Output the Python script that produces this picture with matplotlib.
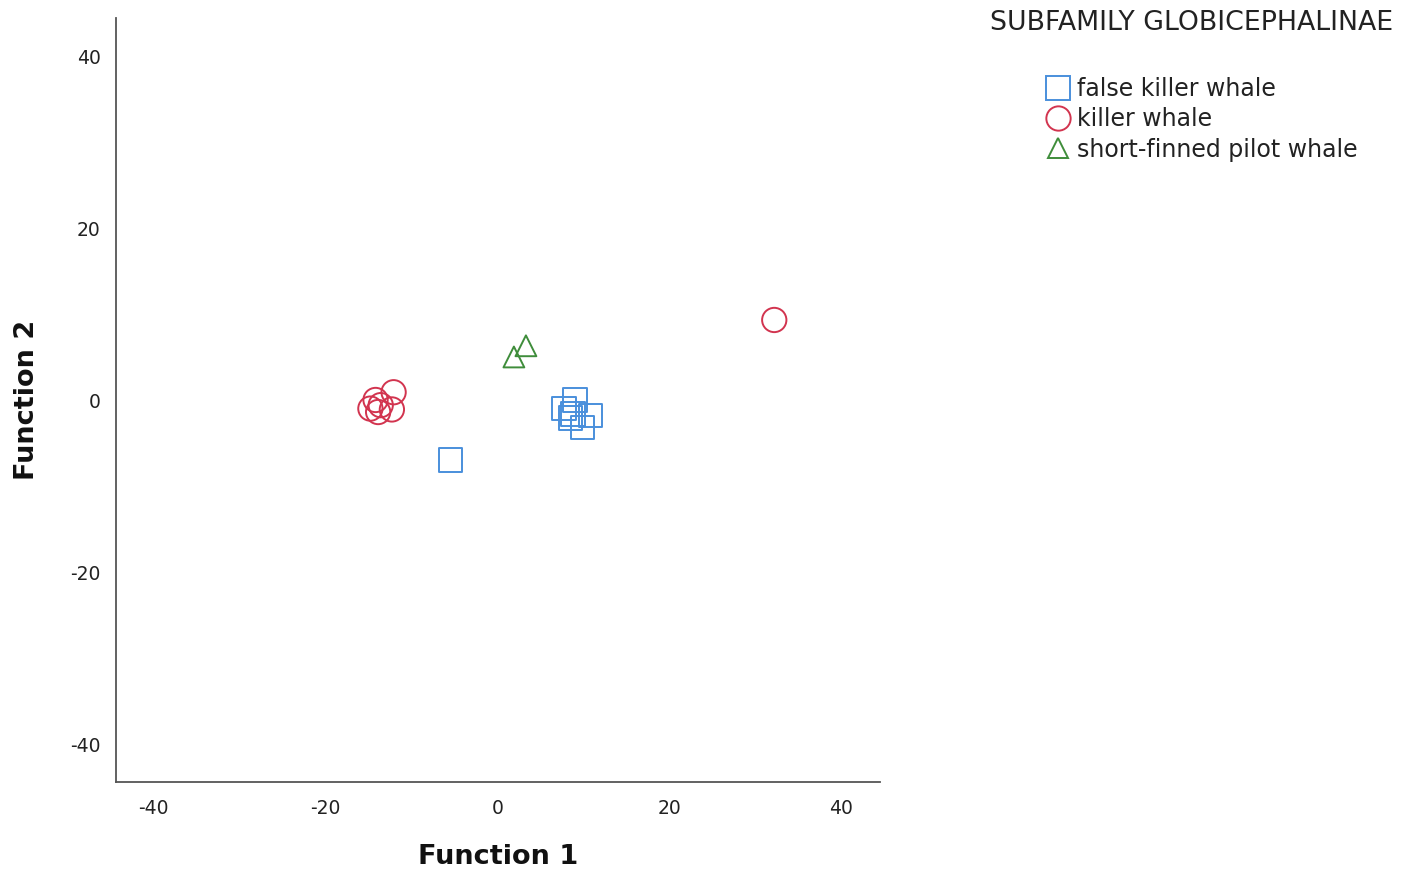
import matplotlib
matplotlib.use("Agg")
import matplotlib.pyplot as plt
from matplotlib.lines import Line2D

plt.rcParams['font.family'] = ['DejaVu Sans']
plt.rcParams['axes.unicode_minus'] = False

# Discriminant function scores per group
false_killer_f1 = [-5.5, 9.0, 7.7, 10.8, 9.9, 8.5, 8.8]
false_killer_f2 = [-6.9, 0.1, -0.9, -1.7, -3.1, -2.0, -1.5]

killer_f1 = [32.2, -12.1, -14.2, -14.8, -13.9, -12.3, -13.6]
killer_f2 = [9.4, 1.0, 0.1, -0.9, -1.3, -1.0, -0.5]

pilot_f1 = [1.9, 3.3]
pilot_f2 = [5.1, 6.4]

group_labels = ["false killer whale", "killer whale", "short-finned pilot whale"]
tick_values = [-40, -20, 0, 20, 40]

blue = "#4a8fdc"
red = "#d2344f"
green = "#3f8d3b"

fig = plt.figure(figsize=(14.05, 8.74), dpi=100)
ax = fig.add_axes([0.0826, 0.1053, 0.5437, 0.8741])

ax.scatter(false_killer_f1, false_killer_f2, marker="s", s=17 ** 2,
           facecolors="none", edgecolors=blue, linewidths=1.4, zorder=3)
ax.scatter(killer_f1, killer_f2, marker="o", s=17.5 ** 2,
           facecolors="none", edgecolors=red, linewidths=1.4, zorder=3)
ax.scatter(pilot_f1, pilot_f2, marker="^", s=15 ** 2,
           facecolors="none", edgecolors=green, linewidths=1.4, zorder=3)

ax.set_xlim(-44.4, 44.5)
ax.set_ylim(-44.3, 44.5)
ax.set_xticks(tick_values)
ax.set_yticks(tick_values)
ax.tick_params(length=0, labelsize=13.5, colors="#222222")
ax.tick_params(axis="x", pad=12)
ax.tick_params(axis="y", pad=11)
for side in ("top", "right"):
    ax.spines[side].set_visible(False)
for side in ("left", "bottom"):
    ax.spines[side].set_color("#555555")
    ax.spines[side].set_linewidth(1.3)

ax.set_xlabel("Function 1", fontsize=19.5, fontweight="bold", color="#111111",
              va="center")
ax.set_ylabel("Function 2", fontsize=19.5, fontweight="bold", color="#111111",
              va="center")
ax.xaxis.set_label_coords(0.5, -0.098)
ax.yaxis.set_label_coords(-0.1165, 0.5)

fig.text(0.7046, 0.974, "SUBFAMILY GLOBICEPHALINAE", fontsize=19.3,
         ha="left", va="center", color="#222222")

handles = [
    Line2D([], [], linestyle="none", marker="s", markersize=17,
           markerfacecolor="none", markeredgecolor=blue, markeredgewidth=1.4),
    Line2D([], [], linestyle="none", marker="o", markersize=17.5,
           markerfacecolor="none", markeredgecolor=red, markeredgewidth=1.4),
    Line2D([], [], linestyle="none", marker="^", markersize=15,
           markerfacecolor="none", markeredgecolor=green, markeredgewidth=1.4),
]
leg = fig.legend(handles, group_labels, loc="upper left",
                 bbox_to_anchor=(0.7445, 0.912), frameon=False, fontsize=17,
                 handlelength=1.0, handletextpad=0.3, labelspacing=0.27,
                 borderpad=0, borderaxespad=0)
for t in leg.get_texts():
    t.set_color("#222222")

fig.savefig("out.png", dpi=100)
